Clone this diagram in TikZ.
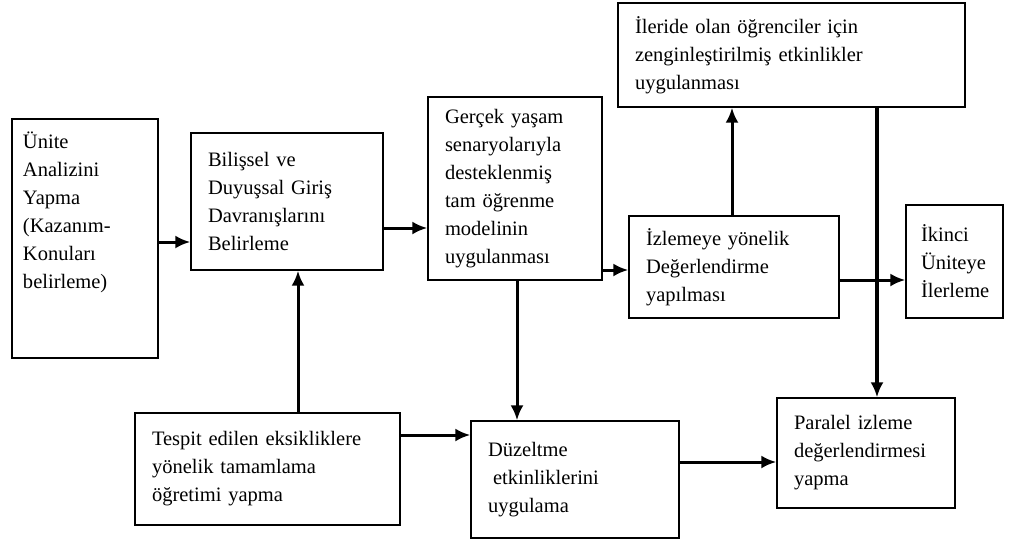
\documentclass[tikz,border=0pt]{standalone}
\usepackage{fontspec}
\setmainfont{Liberation Serif}
\usepackage{tikz}
\usetikzlibrary{arrows.meta}

\tikzset{
  box/.style={draw, rectangle, line width=1.3pt, align=left, inner xsep=17pt,
    font=\fontsize{20.5}{28}\selectfont},
  arr/.style={line width=3pt, -{Latex[length=15pt,width=13pt]}},
}

\begin{document}
\begin{tikzpicture}[x=1pt, y=-1pt]
  \useasboundingbox[fill=white] (0,0) rectangle (1011,542);
  % Define nodes
  \node[box, inner xsep=11pt, text width=124pt, minimum height=239pt] (unite) at (85,238.5)
    {Ünite\\ Analizini\\ Yapma\\ (Kazanım-\\ Konuları\\ belirleme)\\ ~\\ ~};
  \node[box, text width=158pt, minimum height=137pt] (bilissel) at (287,201.5)
    {Bilişsel ve\\ Duyuşsal Giriş\\ Davranışlarını\\ Belirleme};
  \node[box, text width=140pt, minimum height=183pt] (gercek) at (515,188.5)
    {Gerçek yaşam\\ senaryolarıyla\\ desteklenmiş\\ tam öğrenme\\ modelinin\\ uygulanması};
  \node[box, text width=313pt, minimum height=104pt] (ileride) at (791.5,55)
    {İleride olan öğrenciler için\\ zenginleştirilmiş etkinlikler\\ uygulanması};
  \node[box, text width=176pt, minimum height=102pt] (izleme) at (734,267)
    {İzlemeye yönelik\\ Değerlendirme\\ yapılması};
  \node[box, inner xsep=15pt, text width=67pt, minimum height=113pt] (ikinci) at (954.5,261.5)
    {İkinci\\ Üniteye\\ İlerleme};
  \node[box, text width=231pt, minimum height=112pt] (tespit) at (267.5,469)
    {Tespit edilen eksikliklere\\ yönelik tamamlama\\ öğretimi yapma};
  \node[box, text width=174pt, minimum height=117pt] (duzeltme) at (575,479.5)
    {Düzeltme\\ \hspace*{5pt}etkinliklerini\\ uygulama};
  \node[box, text width=144pt, minimum height=110pt] (paralel) at (866,453)
    {Paralel izleme\\ değerlendirmesi\\ yapma};
  % Define edges
  \draw[arr] ([yshift=-3.5pt]unite.east) -- ([yshift=-3.5pt]unite.east -| bilissel.west);
  \draw[arr] ([yshift=-26.5pt]bilissel.east) -- ([yshift=-26.5pt]bilissel.east -| gercek.west);
  \draw[arr] ([yshift=-81.5pt]gercek.east) -- ([yshift=-81.5pt]gercek.east -| izleme.west);
  \draw[arr] ([xshift=-2pt]izleme.north) -- ([xshift=-2pt]izleme.north |- ileride.south);
  \draw[arr] ([yshift=-13pt]izleme.east) -- ([yshift=-13pt]izleme.east -| ikinci.west);
  \draw[arr, line width=4pt] ([xshift=85.5pt]ileride.south) -- ([xshift=85.5pt]ileride.south |- paralel.north);
  \draw[arr] ([xshift=2pt]gercek.south) -- ([xshift=2pt]gercek.south |- duzeltme.north);
  \draw[arr] ([xshift=30.5pt]tespit.north) -- ([xshift=30.5pt]tespit.north |- bilissel.south);
  \draw[arr] ([yshift=34pt]tespit.east) -- ([yshift=34pt]tespit.east -| duzeltme.west);
  \draw[arr] ([yshift=17.5pt]duzeltme.east) -- ([yshift=17.5pt]duzeltme.east -| paralel.west);
\end{tikzpicture}
\end{document}
